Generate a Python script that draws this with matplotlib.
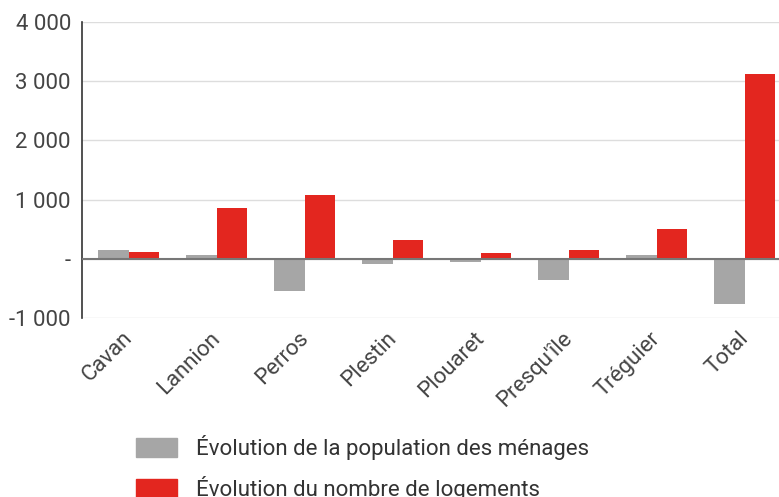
import numpy as np
import matplotlib.pyplot as plt
from matplotlib.ticker import FuncFormatter
from matplotlib.patches import Patch

plt.rcParams["font.family"] = ["Roboto", "DejaVu Sans"]

categories = ["Cavan", "Lannion", "Perros", "Plestin", "Plouaret", "Presqu'île", "Tréguier", "Total"]
population_menages = [150, 60, -550, -90, -60, -360, 60, -770]
nombre_logements = [110, 855, 1085, 315, 90, 145, 495, 3125]
series_labels = ["Évolution de la population des ménages", "Évolution du nombre de logements"]

GRAY = "#a6a6a6"
RED = "#e3261f"
TXT = "#444444"


def fmt_thousands(v, pos):
    if v == 0:
        return "-"
    return f"{int(v):,}".replace(",", " ")


fig = plt.figure(figsize=(7.79, 4.97), dpi=100)
# plot area runs a little past the right edge, as in the original
ax = fig.add_axes([82 / 779, 1 - 318 / 497, 704 / 779, (318 - 22) / 497])

x = np.arange(len(categories))
w = 0.35
ax.bar(x - w / 2 + 0.03, population_menages, w, color=GRAY, zorder=3)
ax.bar(x + w / 2 + 0.03, nombre_logements, w, color=RED, zorder=3)

ax.set_xlim(-0.5, len(categories) - 0.5)
ax.set_ylim(-1000, 4000)
ax.set_yticks(np.arange(-1000, 4001, 1000))
ax.yaxis.set_major_formatter(FuncFormatter(fmt_thousands))
ax.grid(axis="y", color="#dddddd", linewidth=1, zorder=0)
ax.axhline(0, color="#777777", linewidth=1.5, zorder=4)

for s in ["top", "right", "bottom"]:
    ax.spines[s].set_visible(False)
ax.spines["left"].set_color("#333333")
ax.spines["left"].set_linewidth(1.2)

ax.tick_params(axis="y", length=0, pad=8, labelsize=16, labelcolor=TXT)
ax.tick_params(axis="x", length=0, pad=7, labelsize=16, labelcolor=TXT)
ax.set_xticks(x - 0.05)
ax.set_xticklabels(categories, rotation=45, ha="right", rotation_mode="anchor")

handles = [Patch(color=GRAY), Patch(color=RED)]
fig.legend(handles, series_labels, loc="upper left", bbox_to_anchor=(136 / 779, 1 - 435 / 497),
           frameon=False, fontsize=16, handlelength=1.85, handleheight=0.9, borderpad=0,
           borderaxespad=0, handletextpad=0.85, labelspacing=0.7, labelcolor="#333333")

fig.savefig("out.png", dpi=100)
